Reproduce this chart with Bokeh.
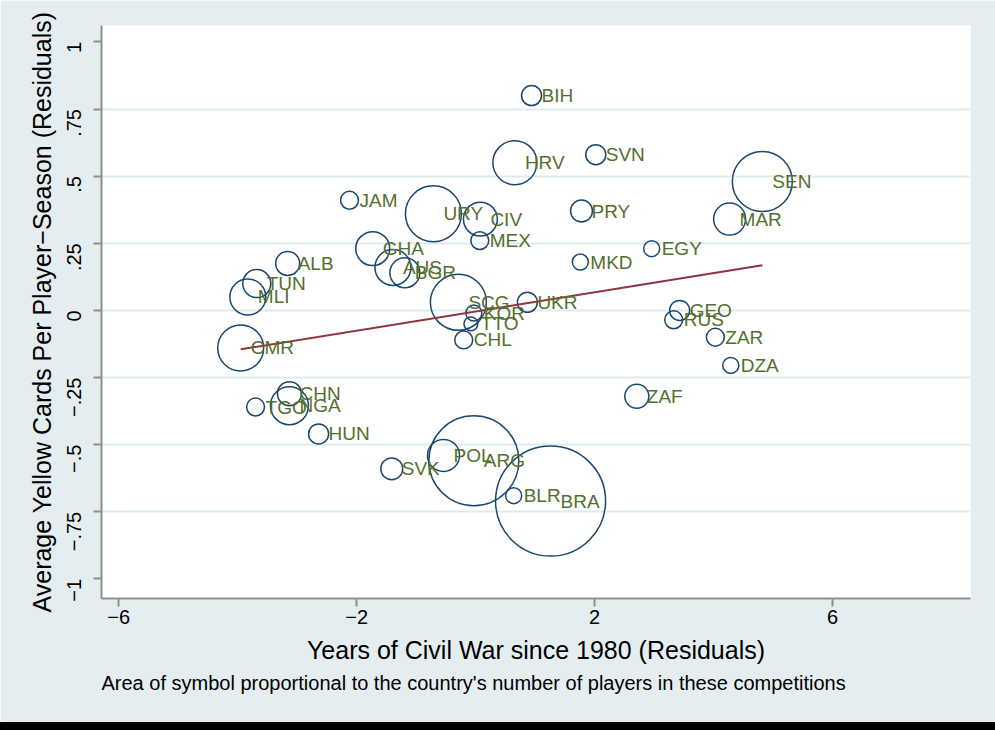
import math
import numpy as np
from bokeh.plotting import figure
from bokeh.models import FixedTicker, Title, Div, ColumnDataSource
from bokeh.layouts import column
from bokeh.core.properties import value
from bokeh.embed import file_html
from bokeh.resources import INLINE

# ---- data ----
countries = ["BIH", "SVN", "HRV", "SEN", "JAM", "URY", "CIV", "MEX", "PRY", "MAR",
             "EGY", "MKD", "GHA", "AUS", "BGR", "ALB", "TUN", "MLI", "CMR", "SCG",
             "CHL", "TTO", "KOR", "UKR", "GEO", "RUS", "ZAR", "DZA", "ZAF", "TGO",
             "CHN", "NGA", "HUN", "SVK", "POL", "ARG", "BLR", "BRA"]
civil_war_resid = [0.94, 2.02, 0.66, 4.82, -2.12, -0.71, 0.08, 0.07, 1.78, 4.27,
                   2.96, 1.76, -1.73, -1.39, -1.19, -3.16, -3.68, -3.83, -3.95, -0.29,
                   -0.20, -0.08, -0.03, 0.87, 3.43, 3.33, 4.03, 4.29, 2.71, -3.70,
                   -3.13, -3.13, -2.64, -1.41, -0.54, -0.03, 0.64, 1.26]
yellow_resid = [0.80, 0.58, 0.55, 0.48, 0.41, 0.36, 0.34, 0.26, 0.37, 0.34,
                0.23, 0.18, 0.23, 0.16, 0.14, 0.175, 0.10, 0.05, -0.14, 0.03,
                -0.11, -0.05, -0.01, 0.03, 0.0, -0.035, -0.10, -0.205, -0.32, -0.36,
                -0.31, -0.355, -0.46, -0.59, -0.54, -0.56, -0.69, -0.71]
players = [25, 25, 121, 225, 20, 196, 72, 20, 30, 64,
           16, 16, 72, 81, 56, 36, 49, 81, 132, 196,
           20, 12, 16, 25, 25, 20, 20, 16, 36, 20,
           36, 90, 25, 30, 64, 506, 16, 756]
fit_x = [-3.95, 4.82]
fit_y = [-0.145, 0.168]

x_ticks = [-6, -2, 2, 6]
x_tick_labels = ["\u22126", "\u22122", "2", "6"]
y_ticks = [-1, -0.75, -0.5, -0.25, 0, 0.25, 0.5, 0.75, 1]
y_tick_labels = ["\u22121", "\u2212.75", "\u2212.5", "\u2212.25", "0", ".25", ".5", ".75", "1"]
y_grid = [-0.75, -0.5, -0.25, 0, 0.25, 0.5, 0.75]

x_title = "Years of Civil War since 1980 (Residuals)"
y_title = "Average Yellow Cards Per Player\u2212Season (Residuals)"
caption = "Area of symbol proportional to the country's number of players in these competitions"

# ---- styles ----
FONT = "Liberation Sans"
BG = "#E4EEF0"
GRID = "#E0EBEE"
AXC = "#8E8E8E"
NAVY = "#1A476F"
MAROON = "#90353B"
LABC = "#52702C"

src = ColumnDataSource(dict(
    x=civil_war_resid, y=yellow_resid, name=countries,
    size=[4.0 * math.sqrt(n) for n in players],
))

p = figure(width=995, height=722, x_range=(-6.29, 8.32), y_range=(-1.073, 1.061),
           output_backend="svg", toolbar_location=None,
           min_border_left=101, min_border_right=25, min_border_top=25, min_border_bottom=124,
           background_fill_color="white", border_fill_color=BG)
p.outline_line_color = None

p.xgrid.visible = False
p.ygrid.ticker = FixedTicker(ticks=y_grid)
p.ygrid.grid_line_color = GRID
p.ygrid.grid_line_width = 2

for ax in (p.xaxis[0], p.yaxis[0]):
    ax.axis_line_color = AXC
    ax.axis_line_width = 2
    ax.major_tick_line_color = AXC
    ax.major_tick_line_width = 2
    ax.major_tick_out = 8
    ax.major_tick_in = 0
    ax.minor_tick_out = 0
    ax.minor_tick_in = 0
    ax.major_label_text_font = FONT
    ax.major_label_text_font_size = "20px"
    ax.major_label_text_color = "black"
    ax.axis_label_text_font = FONT
    ax.axis_label_text_font_size = "25px"
    ax.axis_label_text_font_style = "normal"
    ax.axis_label_text_color = "black"

p.xaxis.ticker = FixedTicker(ticks=x_ticks)
p.xaxis.major_label_overrides = {t: s for t, s in zip(x_ticks, x_tick_labels)}
p.xaxis.axis_label = x_title
p.xaxis.major_label_standoff = 3
p.xaxis.axis_label_standoff = 9

p.yaxis.ticker = FixedTicker(ticks=y_ticks)
p.yaxis.major_label_overrides = {t: s for t, s in zip(y_ticks, y_tick_labels)}
p.yaxis.major_label_orientation = math.pi / 2
p.yaxis.axis_label = y_title
p.yaxis.major_label_standoff = 19
p.yaxis.axis_label_standoff = 2

p.scatter("x", "y", size="size", source=src, marker="circle",
          fill_color=None, line_color=NAVY, line_width=1.5)
p.line(fit_x, fit_y, line_color=MAROON, line_width=2)
p.text("x", "y", text="name", source=src, x_offset=10,
       text_baseline="middle", text_align="left",
       text_font=value(FONT), text_font_size="19px", text_color=LABC)

cap = Title(text=caption, align="left", text_font=FONT, text_font_size="20px",
            text_font_style="normal", text_color="black", standoff=6)
p.add_layout(cap, "below")

bar = Div(width=995, height=8, margin=0, styles={"background-color": "black"})
layout = column(p, bar, spacing=0)

open("out.html", "w").write(file_html(layout, INLINE))
